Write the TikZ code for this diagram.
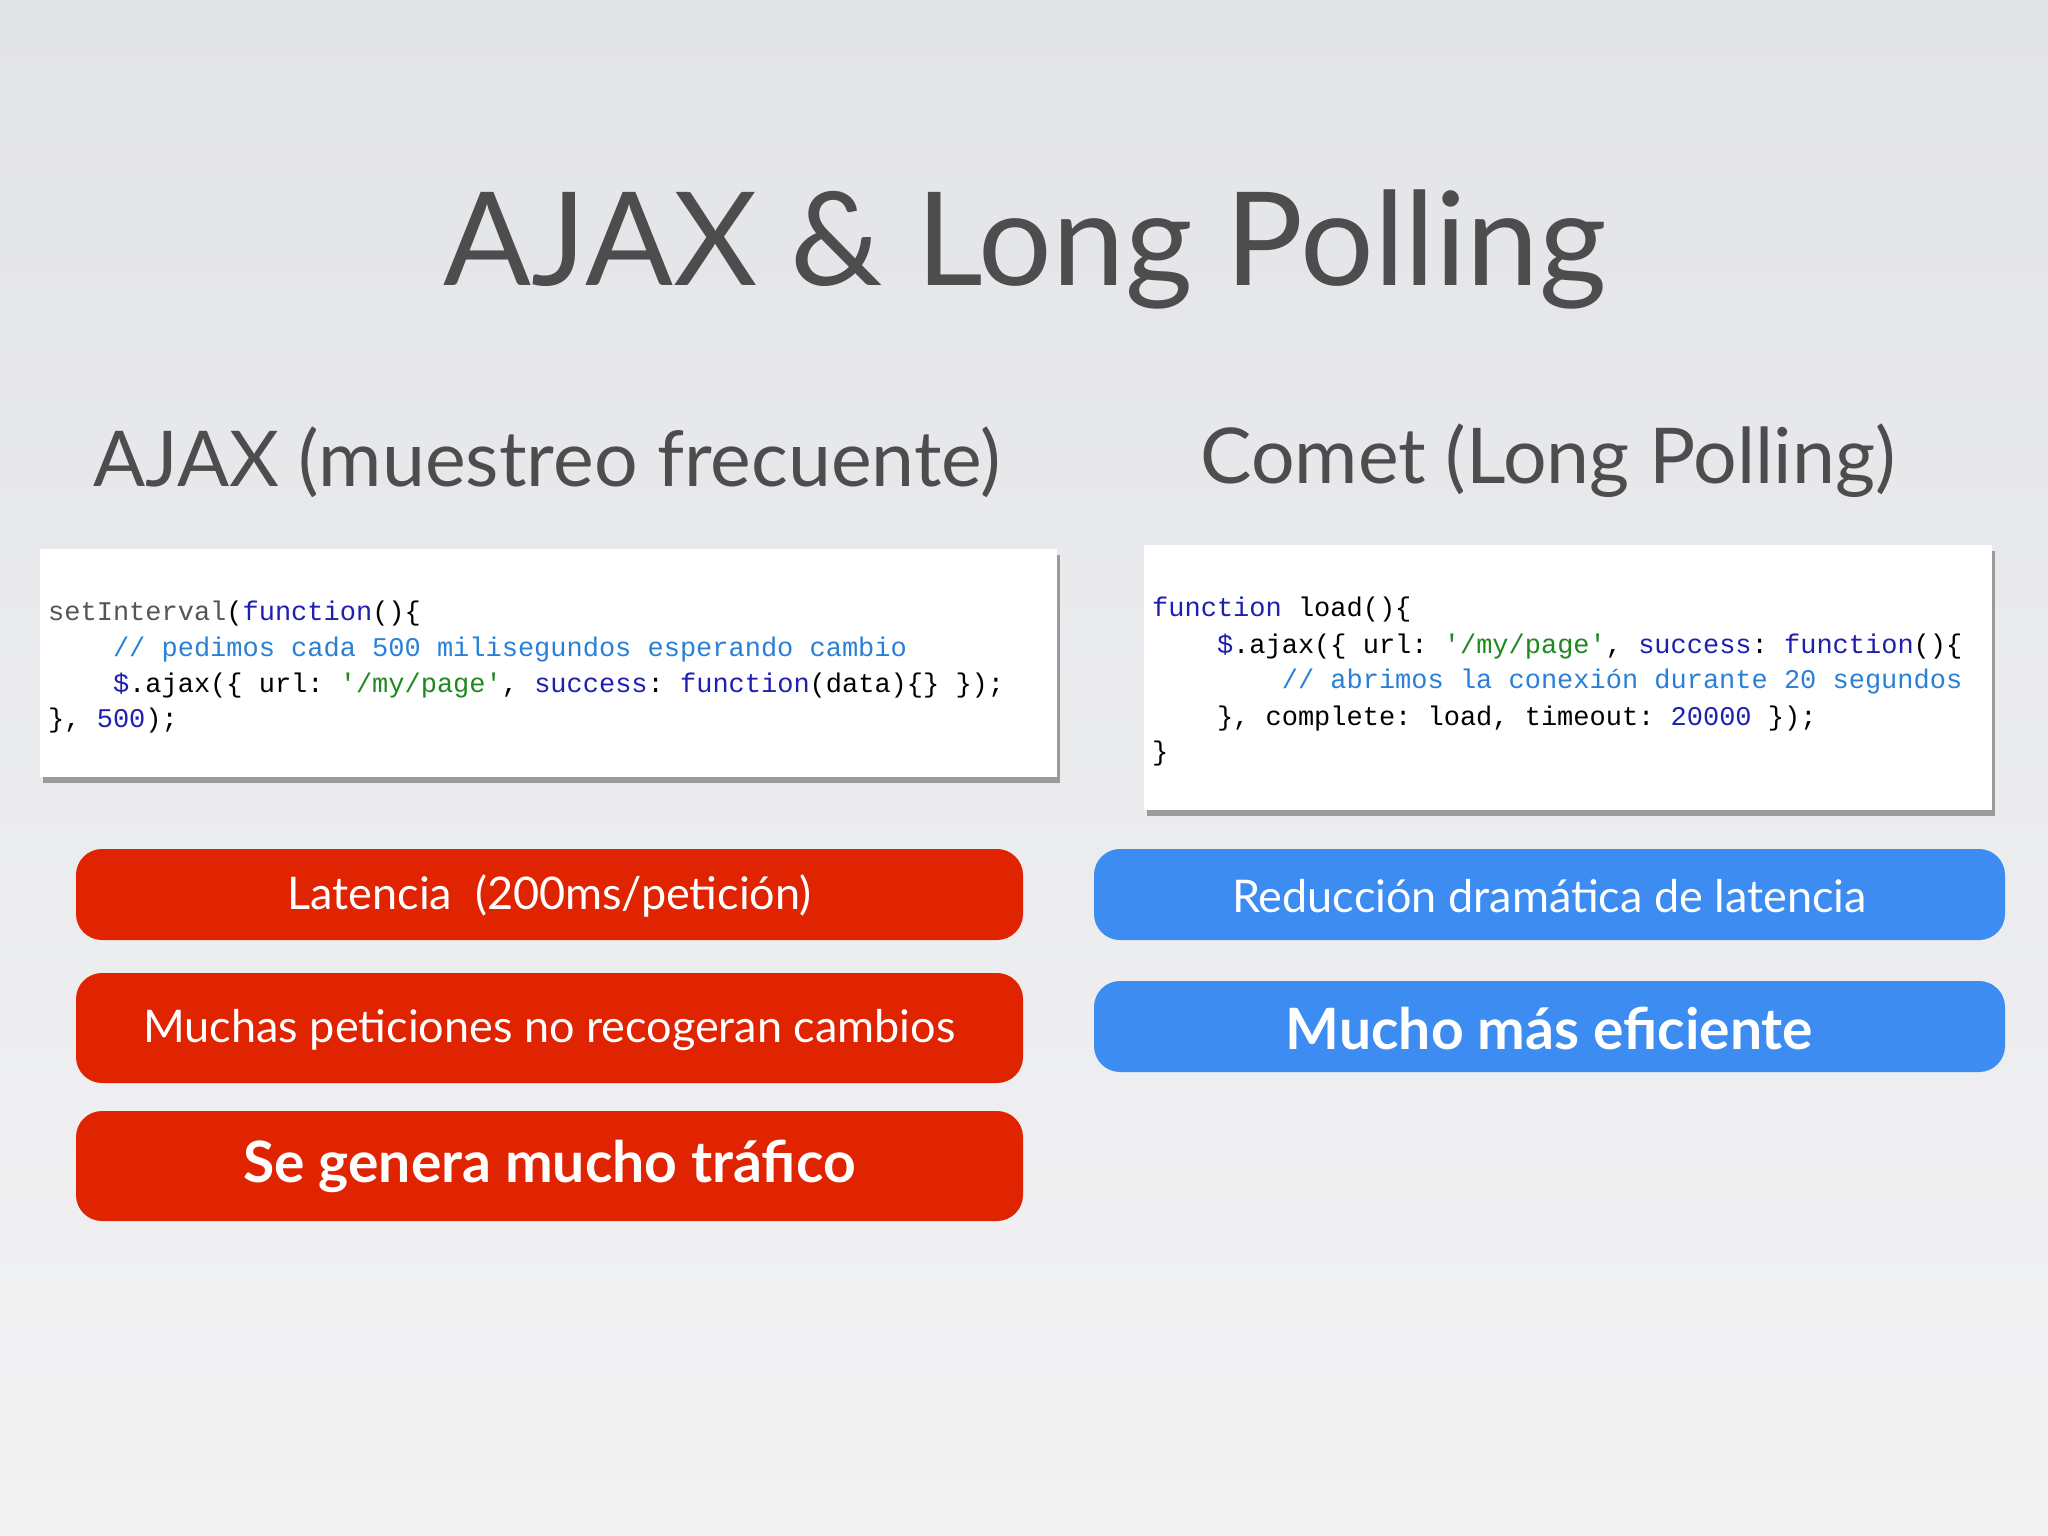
\documentclass[tikz,border=0pt]{standalone}
\usepackage{fontspec}
\setmainfont{Lato}
\setmonofont{Liberation Mono}
\usetikzlibrary{shadows}
\definecolor{bgtop}{HTML}{E3E4E8}
\definecolor{bgbot}{HTML}{F2F2F3}
\definecolor{ttl}{HTML}{4D4D4D}
\definecolor{redb}{HTML}{E02300}
\definecolor{blueb}{HTML}{3D8CF2}
\definecolor{kw}{HTML}{1F1FB0}
\definecolor{cm}{HTML}{2A80D8}
\definecolor{st}{HTML}{1E8A1E}
\definecolor{fn}{HTML}{555555}
\newcommand{\kw}[1]{\textcolor{kw}{#1}}
\newcommand{\cmt}[1]{\textcolor{cm}{#1}}
\newcommand{\str}[1]{\textcolor{st}{#1}}
\begin{document}
\begin{tikzpicture}[x=1pt,y=-1pt,
  codeline/.style={anchor=base west,inner sep=0pt,font=\ttfamily\fontsize{27}{30}\selectfont,text=black},
  codebox/.style={fill=white,drop shadow={shadow xshift=3pt,shadow yshift=-6pt,opacity=0.5,fill=black!70}},
  pill/.style={rounded corners=26pt},
  pilltext/.style={text=white,font=\fontsize{45}{54}\selectfont},
  pillbold/.style={text=white,font=\bfseries\fontsize{57}{64}\selectfont}]
\shade[top color=bgtop,bottom color=bgbot] (0,0) rectangle (2048,1536);
\useasboundingbox (0,0) rectangle (2048,1536);
\node[anchor=base,text=ttl,font=\fontsize{130}{140}\selectfont] (title) at (1025,285) {AJAX \& Long Polling};
\node[anchor=base,text=ttl,font=\fontsize{77}{86}\selectfont] (subl) at (547,486) {AJAX (muestreo frecuente)};
\node[anchor=base,text=ttl,font=\fontsize{77}{86}\selectfont] (subr) at (1548,483) {Comet (Long Polling)};
% left code
\path[codebox] (40,549) rectangle (1057,777);
\node[codeline] (l1) at (48,620) {\textcolor{fn}{setInterval}(\kw{function}()\{};
\node[codeline] (l2) at (48,656) {\phantom{xxxx}\cmt{// pedimos cada 500 milisegundos esperando cambio}};
\node[codeline] (l3) at (48,692) {\phantom{xxxx}\kw{\$}.ajax(\{ url: \str{'/my/page'}, \kw{success}: \kw{function}(data)\{\} \});};
\node[codeline] (l4) at (48,727) {\}, \kw{500});};
% right code
\path[codebox] (1144,545) rectangle (1992,810);
\node[codeline] (r1) at (1152,616) {\kw{function} load()\{};
\node[codeline] (r2) at (1152,653) {\phantom{xxxx}\kw{\$}.ajax(\{ url: \str{'/my/page'}, \kw{success}: \kw{function}()\{};
\node[codeline] (r3) at (1152,688) {\phantom{xxxxxxxx}\cmt{// abrimos la conexión durante 20 segundos}};
\node[codeline] (r4) at (1152,725) {\phantom{xxxx}\}, complete: load, timeout: \kw{20000} \});};
\node[codeline] (r5) at (1152,760) {\}};
% red pills
\fill[redb,pill] (76,849) rectangle (1023,940);
\node[pilltext] (p1) at (549.5,896) {Latencia\ \ (200ms/petición)};
\fill[redb,pill] (76,973) rectangle (1023,1083);
\node[pilltext] (p2) at (549.5,1030) {Muchas peticiones no recogeran cambios};
\fill[redb,pill] (76,1111) rectangle (1023,1221);
\node[pillbold] (p3) at (549.5,1166) {Se genera mucho tráfico};
% blue pills
\fill[blueb,pill] (1094,849) rectangle (2005,940);
\node[pilltext] (b1) at (1549.5,896) {Reducción dramática de latencia};
\fill[blueb,pill] (1094,981) rectangle (2005,1072);
\node[pillbold] (b2) at (1549.5,1028) {Mucho más eficiente};
\end{tikzpicture}
\end{document}
